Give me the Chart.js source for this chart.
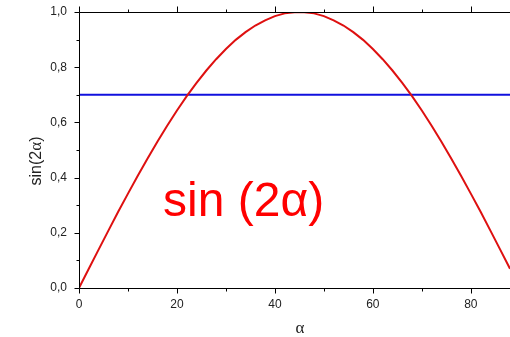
<!DOCTYPE html>
<html>
<head>
<meta charset="utf-8">
<script src="https://cdn.jsdelivr.net/npm/chart.js@4.4.1/dist/chart.umd.min.js"></script>
<style>
  html, body { margin: 0; padding: 0; background: #fff; }
  #wrap { width: 510px; height: 337px; position: relative; }
</style>
</head>
<body>
<div id="wrap"><canvas id="c" width="510" height="337"></canvas></div>
<script>
// angle α in degrees
const alphaDeg = [0, 2, 4, 6, 8, 10, 12, 14, 16, 18, 20, 22, 24, 26, 28, 30, 32, 34, 36, 38, 40, 42, 44, 45,
                  46, 48, 50, 52, 54, 56, 58, 60, 62, 64, 66, 68, 70, 72, 74, 76, 78, 80, 82, 84, 86, 88];
// sin(2α)
const sin2a = [0.000, 0.070, 0.139, 0.208, 0.276, 0.342, 0.407, 0.469, 0.530, 0.588, 0.643, 0.695, 0.743, 0.788,
               0.829, 0.866, 0.899, 0.927, 0.951, 0.970, 0.985, 0.995, 0.999, 1.000,
               0.999, 0.995, 0.985, 0.970, 0.951, 0.927, 0.899, 0.866, 0.829, 0.788, 0.743, 0.695, 0.643,
               0.588, 0.530, 0.469, 0.407, 0.342, 0.276, 0.208, 0.139, 0.070];
// horizontal reference level
const levelX = [0, 88];
const levelY = [0.70, 0.70];

const xMajor = [0, 20, 40, 60, 80];
const xMinor = [10, 30, 50, 70];
const yMajor = [0, 0.2, 0.4, 0.6, 0.8, 1.0];
const yMinor = [0.1, 0.3, 0.5, 0.7, 0.9];

const FONT = "'Liberation Sans', Arial, sans-serif";
const SERIF = "'Liberation Serif', 'Times New Roman', serif";

// axis frame, tick marks, titles and the in-plot caption
const decor = {
  id: 'decor',
  afterDraw(chart) {
    const ctx = chart.ctx;
    const x = chart.scales.x, y = chart.scales.y;
    const a = chart.chartArea;
    ctx.save();
    ctx.strokeStyle = '#000';
    ctx.lineWidth = 1;
    const L = Math.round(a.left) + 0.5, B = Math.round(a.bottom) + 0.5, T = Math.round(a.top) + 0.5;
    ctx.beginPath();
    // frame: left, bottom, top
    ctx.moveTo(L, T); ctx.lineTo(L, B);
    ctx.moveTo(L, B); ctx.lineTo(a.right, B);
    ctx.moveTo(L, T); ctx.lineTo(a.right, T);
    // y ticks (outward, to the left)
    yMajor.forEach(v => { const p = Math.round(y.getPixelForValue(v)) + 0.5; ctx.moveTo(L - 5, p); ctx.lineTo(L, p); });
    yMinor.forEach(v => { const p = Math.round(y.getPixelForValue(v)) + 0.5; ctx.moveTo(L - 3, p); ctx.lineTo(L, p); });
    // x ticks bottom (down) and top (up)
    xMajor.forEach(v => {
      const p = Math.round(x.getPixelForValue(v)) + 0.5;
      ctx.moveTo(p, B); ctx.lineTo(p, B + 5);
      ctx.moveTo(p, T); ctx.lineTo(p, T - 6);
    });
    xMinor.forEach(v => {
      const p = Math.round(x.getPixelForValue(v)) + 0.5;
      ctx.moveTo(p, B); ctx.lineTo(p, B + 3);
      ctx.moveTo(p, T); ctx.lineTo(p, T - 3);
    });
    ctx.stroke();

    // x axis title
    ctx.fillStyle = '#222';
    ctx.textAlign = 'center';
    ctx.textBaseline = 'alphabetic';
    ctx.font = '17px ' + SERIF;
    ctx.fillText('α', 300, 333);

    // y axis title (rotated), α set in serif
    ctx.save();
    ctx.translate(41, 161);
    ctx.rotate(-Math.PI / 2);
    const parts = [['sin(2', '16px ' + FONT], ['α', '17px ' + SERIF], [')', '16px ' + FONT]];
    let total = 0;
    parts.forEach(([t, f]) => { ctx.font = f; total += ctx.measureText(t).width; });
    let cx = -total / 2;
    ctx.textAlign = 'left';
    parts.forEach(([t, f]) => { ctx.font = f; ctx.fillText(t, cx, 0); cx += ctx.measureText(t).width; });
    ctx.restore();

    // caption inside the plot
    ctx.fillStyle = '#ff0000';
    ctx.font = '48px ' + FONT;
    ctx.textAlign = 'left';
    ctx.fillText('sin (2α)', 163, 216);
    ctx.restore();
  }
};

// keep tick-label overhang from shrinking the plot area
const noOverhang = s => { s.paddingTop = 0; s.paddingBottom = 0; s.paddingLeft = 0; s.paddingRight = 0; };

new Chart(document.getElementById('c'), {
  type: 'line',
  data: {
    datasets: [
      {
        label: 'sin(2α)',
        data: alphaDeg.map((a, i) => ({ x: a, y: sin2a[i] })),
        borderColor: 'rgb(222,16,16)',
        borderWidth: 2,
        pointRadius: 0,
        tension: 0,
        fill: false
      },
      {
        label: 'level',
        data: levelX.map((a, i) => ({ x: a, y: levelY[i] })),
        borderColor: 'rgb(16,16,222)',
        borderWidth: 2,
        pointRadius: 0,
        fill: false
      }
    ]
  },
  options: {
    responsive: false,
    animation: false,
    devicePixelRatio: 1,
    layout: { padding: 0 },
    plugins: { legend: { display: false }, tooltip: { enabled: false } },
    scales: {
      x: {
        type: 'linear', position: 'bottom', min: 0, max: 88,
        grid: { display: false, drawTicks: false },
        border: { display: false },
        ticks: {
          stepSize: 20, includeBounds: false, padding: 9, color: '#222',
          font: { family: FONT, size: 12 },
          maxRotation: 0
        },
        afterFit: s => { s.height = 49; noOverhang(s); }
      },
      xTop: {
        type: 'linear', position: 'top', min: 0, max: 88,
        grid: { display: false, drawTicks: false },
        border: { display: false },
        ticks: { display: false },
        afterFit: s => { s.height = 12; noOverhang(s); }
      },
      y: {
        type: 'linear', position: 'left', min: 0, max: 1,
        grid: { display: false, drawTicks: false },
        border: { display: false },
        ticks: {
          stepSize: 0.2, padding: 12, color: '#222',
          font: { family: FONT, size: 12 },
          callback: v => v.toFixed(1).replace('.', ',')
        },
        afterFit: s => { s.width = 79; noOverhang(s); }
      }
    }
  },
  plugins: [decor]
});
</script>
</body>
</html>
